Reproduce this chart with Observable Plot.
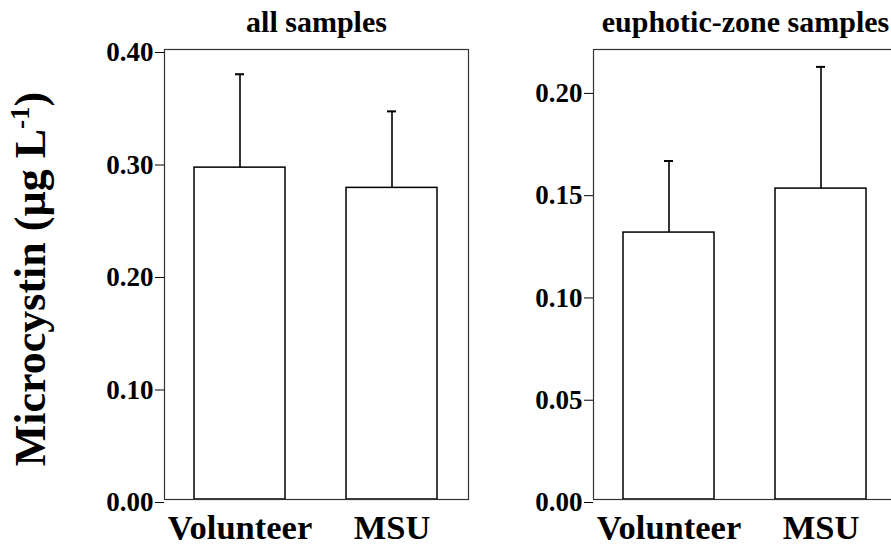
<!DOCTYPE html>
<html><head><meta charset="utf-8">
<script src="https://cdn.jsdelivr.net/npm/d3@7"></script>
<script src="https://cdn.jsdelivr.net/npm/@observablehq/plot@0.6"></script>
<style>
html,body{margin:0;padding:0;background:#fff;overflow:hidden;}
#wrap{position:relative;width:891px;height:547px;overflow:hidden;background:#fff;}
#wrap svg{position:absolute;top:0;}
</style></head><body><div id="wrap"></div>
<script>
const categories = ["Volunteer", "MSU"];
const allMeans = [0.295, 0.277];
const allUpper = [0.378, 0.345];
const euphoticMeans = [0.1305, 0.152];
const euphoticUpper = [0.1655, 0.2115];
const allTicks = [0, 0.1, 0.2, 0.3, 0.4];
const euphoticTicks = [0, 0.05, 0.1, 0.15, 0.2];
const allDomain = [0, 0.4];
const euphoticDomain = [0, 0.22];
const panelTitles = ["all samples", "euphotic-zone samples"];
const yTitleMain = "Microcystin (µg L";
const yTitleSup = "-1";
const yTitleEnd = ")";

const FONT = "'Liberation Serif', 'Times New Roman', serif";

function panel({means, upper, ticks, domain, title, width, marginLeft, marginRight}) {
  const data = categories.map((c, i) => ({cat: c, mean: means[i], upper: upper[i]}));
  return Plot.plot({
    width, height: 547,
    marginTop: 49, marginBottom: 48, marginLeft, marginRight,
    style: {fontFamily: FONT, color: "black", background: "transparent", overflow: "visible"},
    x: {domain: categories, paddingInner: 0.4, paddingOuter: 0.2, label: null},
    y: {domain, label: null},
    marks: [
      Plot.ruleX(data, {x: "cat", y1: "mean", y2: "upper", stroke: "black", strokeWidth: 1.6}),
      Plot.tickY(data, {x: "cat", y: "upper", stroke: "black", strokeWidth: 2, insetLeft: 41, insetRight: 41}),
      Plot.barY(data, {x: "cat", y: "mean", fill: "white", stroke: "black", strokeWidth: 1.5}),
      Plot.frame({stroke: "#333", strokeWidth: 1.2}),
      Plot.axisY({ticks, tickFormat: d3.format(".2f"), tickSize: 9, tickPadding: 2, fontSize: 27, fontWeight: "bold", dy: 3, label: null}),
      Plot.axisX({tickSize: 0, tickPadding: 15, fontSize: 34.5, fontWeight: "bold", label: null}),
      Plot.text([title], {frameAnchor: "top", dy: -27, lineAnchor: "middle", fontSize: 30, fontWeight: "bold", fill: "black"})
    ]
  });
}

const wrap = document.getElementById("wrap");
const left = panel({means: allMeans, upper: allUpper, ticks: allTicks, domain: allDomain, title: panelTitles[0], width: 480, marginLeft: 164, marginRight: 12});
left.style.left = "0px";
const right = panel({means: euphoticMeans, upper: euphoticUpper, ticks: euphoticTicks, domain: euphoticDomain, title: panelTitles[1], width: 460, marginLeft: 153, marginRight: 3});
right.style.left = "440px";
wrap.appendChild(left);
wrap.appendChild(right);

const t = d3.select(left).append("text")
  .attr("transform", "translate(45,279) rotate(-90)")
  .attr("text-anchor", "middle")
  .attr("font-family", FONT)
  .attr("font-weight", "bold")
  .attr("font-size", 44)
  .attr("fill", "black");
t.append("tspan").text(yTitleMain);
t.append("tspan").attr("dy", -16).attr("font-size", 27).text(yTitleSup);
t.append("tspan").attr("dy", 16).text(yTitleEnd);
</script></body></html>
